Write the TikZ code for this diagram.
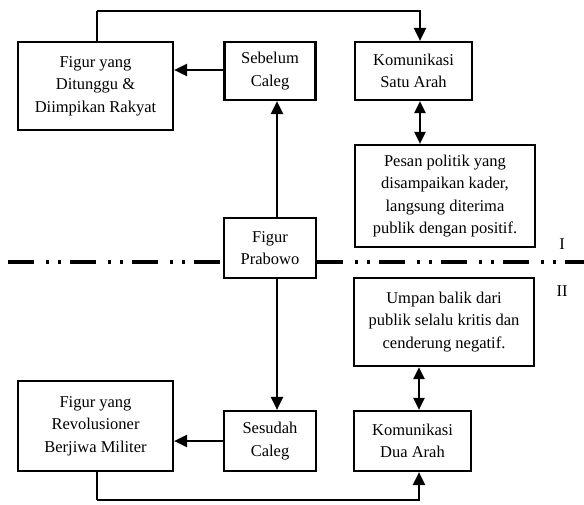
\documentclass[tikz,border=0pt]{standalone}
\usepackage{fontspec}
\setmainfont{Liberation Serif}
\usetikzlibrary{arrows.meta}
\begin{document}
\begin{tikzpicture}[x=1pt,y=-1pt,
  box/.style={draw, line width=2.2pt, align=center, inner sep=0pt, font=\fontsize{16.5}{22.5}\selectfont},
  conn/.style={line width=2.2pt, -{Triangle[length=13pt,width=12pt]}},
  dconn/.style={line width=2.2pt, {Triangle[length=12pt,width=11pt]}-{Triangle[length=12pt,width=11pt]}},
  sep/.style={line width=3.8pt, dash pattern=on 26pt off 12pt on 3pt off 9pt on 3pt off 9pt},
  lab/.style={font=\fontsize{16.5}{20}\selectfont}]
\useasboundingbox (0,0) rectangle (584,504);
% upper row
\node[box, minimum width=155pt, minimum height=88pt] (A) at (95.5,86) {Figur yang\\Ditunggu \&\\Diimpikan Rakyat};
\node[box, minimum width=91pt, minimum height=58pt] (seb) at (270,71) {Sebelum\\Caleg};
\node[box, minimum width=117pt, minimum height=58pt] (ksa) at (413.5,71) {Komunikasi\\Satu Arah};
\node[box, minimum width=180pt, minimum height=102pt] (pes) at (445,196) {Pesan politik yang\\disampaikan kader,\\langsung diterima\\publik dengan positif.};
% middle
\node[box, minimum width=92pt, minimum height=60pt] (prab) at (270,248) {Figur\\Prabowo};
\node[box, minimum width=180pt, minimum height=88pt] (ump) at (444,322) {Umpan balik dari\\publik selalu kritis dan\\cenderung negatif.};
% lower row
\node[box, minimum width=155pt, minimum height=90pt] (R) at (95.5,426) {Figur yang\\Revolusioner\\Berjiwa Militer};
\node[box, minimum width=92pt, minimum height=60pt] (ses) at (270,441) {Sesudah\\Caleg};
\node[box, minimum width=117pt, minimum height=60pt] (kda) at (412.5,441) {Komunikasi\\Dua Arah};
% labels
\node[lab] (l1) at (562,244) {I};
\node[lab] (l2) at (562,291) {II};
% separator
\coordinate (dl) at (8,262);
\coordinate (dr) at (584,262);
\draw[sep] (dl) -- (dl -| prab.west);
\draw[sep] (dr -| prab.east) -- (dr);
% connectors
\draw[conn] ([yshift=1pt]seb.west) -- ([yshift=1pt]seb.west -| A.east);
\draw[conn] ([xshift=7pt]prab.north) -- ([xshift=7pt]seb.south);
\draw[conn] ([xshift=7pt]prab.south) -- ([xshift=7pt]ses.north);
\draw[conn] (ses.west) -- (ses.west -| R.east);
\draw[line width=2.2pt] ([xshift=1.5pt]A.north) -- ++(0,-30) coordinate (tl);
\draw[conn] (tl) -| ([xshift=6.5pt]ksa.north);
\draw[dconn] ([xshift=6.5pt]ksa.south) -- ([xshift=6.5pt]ksa.south |- pes.north);
\draw[dconn] ([xshift=6.5pt]kda.north) -- ([xshift=6.5pt]kda.north |- ump.south);
\draw[line width=2.2pt] ([xshift=1.5pt]R.south) -- ++(0,28) coordinate (bl);
\draw[conn] (bl) -| ([xshift=6.5pt]kda.south);
\end{tikzpicture}
\end{document}
